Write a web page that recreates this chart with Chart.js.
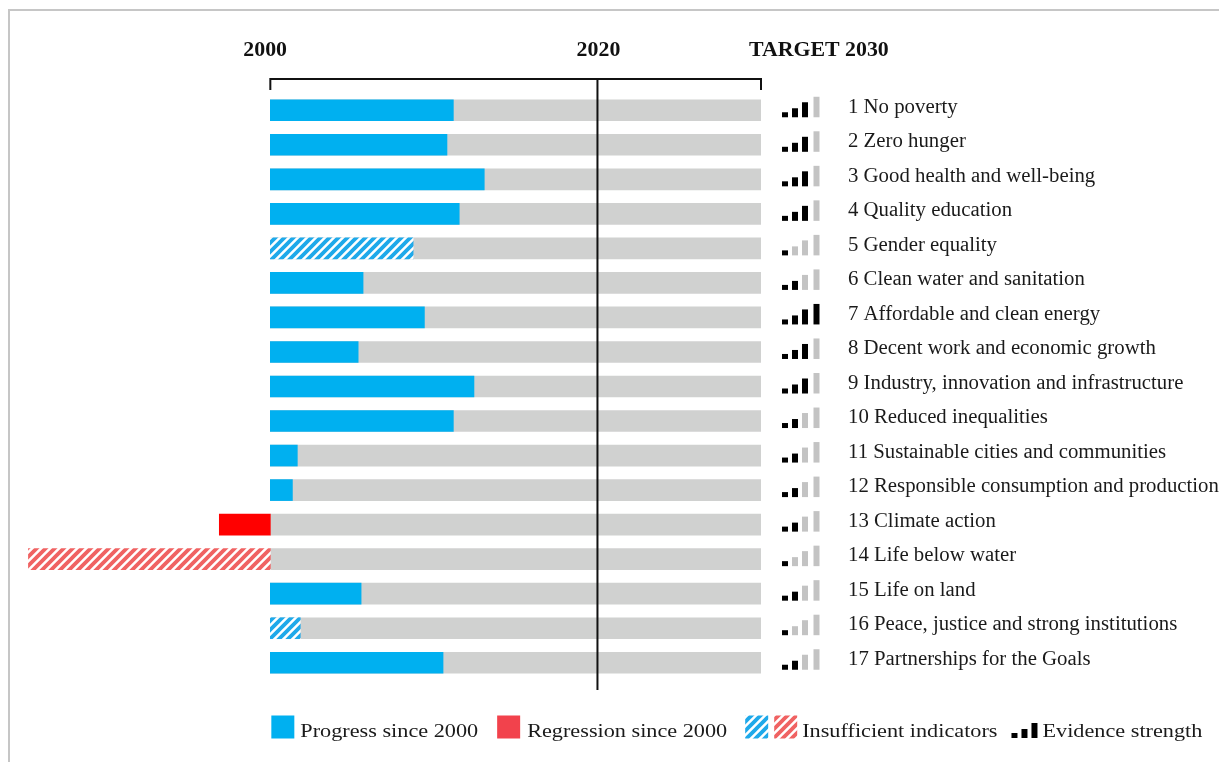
<!DOCTYPE html>
<html>
<head>
<meta charset="utf-8">
<script src="https://cdn.jsdelivr.net/npm/chart.js@4.4.0/dist/chart.umd.min.js"></script>
<style>
    html, body { margin: 0; padding: 0; background: #fff; overflow: hidden; }
    #wrap { position: relative; width: 1219px; height: 762px; overflow: hidden; }
    #frame { position: absolute; left: 8px; top: 9px; width: 1300px; height: 800px;
             border-left: 2px solid #c6c6c6; border-top: 2px solid #c6c6c6; }
    #chart { position: absolute; left: 0; top: 0; }
</style>
</head>
<body>
<div id="wrap">
    <div id="frame"></div>
    <canvas id="chart" width="1219" height="762"></canvas>
</div>
<script>
// Sustainable Development Goals, progress expressed as % of the way from 2000 to the 2030 target
const goals = [
    "1 No poverty",
    "2 Zero hunger",
    "3 Good health and well-being",
    "4 Quality education",
    "5 Gender equality",
    "6 Clean water and sanitation",
    "7 Affordable and clean energy",
    "8 Decent work and economic growth",
    "9 Industry, innovation and infrastructure",
    "10 Reduced inequalities",
    "11 Sustainable cities and communities",
    "12 Responsible consumption and production",
    "13 Climate action",
    "14 Life below water",
    "15 Life on land",
    "16 Peace, justice and strong institutions",
    "17 Partnerships for the Goals"
];
const progress = [37.3, 36.0, 43.6, 38.5, 29.1, 18.9, 31.4, 17.9, 41.5, 37.3, 5.5, 4.5, -10.4, -49.3, 18.5, 6.1, 35.2];
const insufficient = [false, false, false, false, true, false, false, false, false, false, false, false, false, true, false, true, false];
const evidence = [3, 3, 3, 3, 1, 2, 4, 3, 3, 2, 2, 2, 2, 1, 2, 1, 2];
const target = goals.map(() => 100);

const milestoneLabels = ["2000", "2020", "TARGET 2030"];
const milestoneValues = [0, 66.67, 100];

const legendLabels = ["Progress since 2000", "Regression since 2000", "Insufficient indicators", "Evidence strength"];

const BLUE = "#00b0f0";
const RED = "#ff0000";
const HATCH_BLUE = "#1ea9ea";
const HATCH_RED = "#f06262";
const LEGEND_RED = "#f2424c";
const GREY = "#d0d1d0";
const SERIF = '"Liberation Serif", "DejaVu Serif", serif';

function hatch(color) {
    const p = 9;
    const c = document.createElement("canvas");
    c.width = p; c.height = p;
    const g = c.getContext("2d");
    g.fillStyle = "#fff";
    g.fillRect(0, 0, p, p);
    g.strokeStyle = color;
    g.lineWidth = 3.8;
    g.beginPath();
    g.moveTo(-1, p + 1); g.lineTo(p + 1, -1);
    g.moveTo(-2, 2); g.lineTo(2, -2);
    g.moveTo(p - 2, p + 2); g.lineTo(p + 2, p - 2);
    g.stroke();
    return g.createPattern(c, "repeat");
}

const ctx = document.getElementById("chart").getContext("2d");
const blueHatch = hatch(HATCH_BLUE);
const redHatch = hatch(HATCH_RED);

const barColors = progress.map((v, i) => {
    if (insufficient[i]) return v < 0 ? redHatch : blueHatch;
    return v < 0 ? RED : BLUE;
});

// draw text squeezed/stretched horizontally, returns drawn width
function text(c, s, x, y, sx) {
    c.save();
    c.translate(x, y);
    c.scale(sx, 1);
    c.fillText(s, 0, 0);
    c.restore();
    return c.measureText(s).width * sx;
}

function evidenceIcon(c, x, bottom, n, bars) {
    const heights = [5, 9, 15, 20.5];
    const offs = [0, 10, 20, 31.5];
    for (let j = 0; j < bars; j++) {
        c.fillStyle = j < n ? "#000" : "#c3c3c3";
        c.fillRect(x + offs[j], bottom - heights[j], 6, heights[j]);
    }
}

const decorations = {
    id: "decorations",
    afterDraw(chart) {
        const c = chart.ctx;
        const xs = chart.scales.x;
        const ys = chart.scales.y;
        const area = chart.chartArea;
        const x0 = xs.getPixelForValue(0);
        const x20 = xs.getPixelForValue(milestoneValues[1]);
        const x30 = xs.getPixelForValue(100);
        const top = area.top - 14;

        c.save();
        // bracket and 2020 line
        c.strokeStyle = "#111";
        c.lineWidth = 2;
        c.beginPath();
        c.moveTo(x0, top + 11); c.lineTo(x0, top); c.lineTo(x30, top); c.lineTo(x30, top + 11);
        c.stroke();
        c.beginPath();
        c.moveTo(x20, top); c.lineTo(x20, area.bottom + 10);
        c.stroke();

        // milestone headers
        c.fillStyle = "#111";
        c.font = "bold 21px " + SERIF;
        c.textBaseline = "alphabetic";
        const hy = 56;
        let w = c.measureText(milestoneLabels[0]).width;
        text(c, milestoneLabels[0], x0 - 6 - w / 2, hy, 1.04);
        w = c.measureText(milestoneLabels[1]).width;
        text(c, milestoneLabels[1], x20 + 1 - w / 2 * 1.04, hy, 1.04);
        text(c, milestoneLabels[2], x30 - 12, hy, 1.04);

        // evidence icons and goal labels
        c.font = "20px " + SERIF;
        c.textBaseline = "middle";
        goals.forEach((g, i) => {
            const yc = ys.getPixelForValue(i);
            evidenceIcon(c, area.right + 21, yc + 7, evidence[i], 4);
            c.fillStyle = "#1a1a1a";
            text(c, g, area.right + 87, yc - 3, 1.04);
        });

        // legend
        const ly = 727;
        const sq = 23;
        c.font = "19px " + SERIF;
        c.textBaseline = "alphabetic";
        const sx = 1.17;
        let lx = x0 + 1;
        c.fillStyle = BLUE;
        c.fillRect(lx, ly - sq / 2, sq, sq);
        lx += sq + 6;
        c.fillStyle = "#1a1a1a";
        lx += text(c, legendLabels[0], lx, ly + 10, sx) + 19;

        c.fillStyle = LEGEND_RED;
        c.fillRect(lx, ly - sq / 2, sq, sq);
        lx += sq + 7;
        c.fillStyle = "#1a1a1a";
        lx += text(c, legendLabels[1], lx, ly + 10, sx) + 18;

        c.fillStyle = blueHatch;
        c.fillRect(lx, ly - sq / 2, sq, sq);
        lx += sq + 6;
        c.fillStyle = redHatch;
        c.fillRect(lx, ly - sq / 2, sq, sq);
        lx += sq + 5;
        c.fillStyle = "#1a1a1a";
        lx += text(c, legendLabels[2], lx, ly + 10, sx) + 14;

        evidenceIcon(c, lx, ly + 11, 3, 3);
        lx += 31;
        c.fillStyle = "#1a1a1a";
        text(c, legendLabels[3], lx, ly + 10, sx);
        c.restore();
    }
};

new Chart(ctx, {
    type: "bar",
    data: {
        labels: goals,
        datasets: [
            {
                label: "Target",
                data: target,
                backgroundColor: GREY,
                grouped: false,
                order: 2,
                barThickness: 21,
            },
            {
                label: "Progress",
                data: progress,
                backgroundColor: barColors,
                grouped: false,
                order: 1,
                barThickness: 21,
            },
        ],
    },
    options: {
        indexAxis: "y",
        responsive: false,
        animation: false,
        layout: { padding: { left: 25, top: 93, bottom: 82, right: 0 } },
        plugins: {
            legend: { display: false },
            tooltip: { enabled: false },
        },
        scales: {
            x: { min: -50, max: 100, display: false },
            y: {
                position: "right",
                grid: { display: false },
                border: { display: false },
                ticks: { display: false },
                afterFit(scale) { scale.width = 458; },
            },
        },
    },
    plugins: [decorations],
});
</script>
</body>
</html>
